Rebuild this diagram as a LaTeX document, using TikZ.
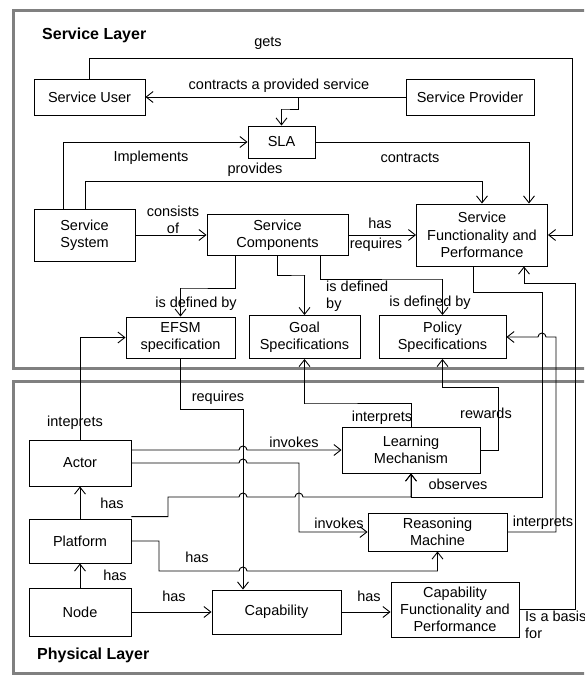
\documentclass[tikz,border=0pt]{standalone}
\usepackage{fontspec}
\setmainfont{Liberation Sans}
\usetikzlibrary{arrows.meta}
\begin{document}
\begin{tikzpicture}[x=1pt,y=-1pt,
  txt/.style={font=\fontsize{14.5}{17.2}\selectfont, inner sep=0pt, align=center},
  box/.style={txt, draw, line width=0.9pt},
  ttl/.style={font=\fontsize{16}{19}\selectfont\bfseries, inner sep=0pt, anchor=west},
  wire/.style={line width=0.9pt, -{Straight Barb[length=7pt,width=11pt]}},
  layer/.style={draw=black!50, line width=3pt}]
\clip (0,0) rectangle (584,675);
\fill[white] (0,0) rectangle (584,675);

% layer frames
\draw[layer] (13.5,10) rectangle (640,368);
\draw[layer] (13.5,381) rectangle (640,673);
\node[ttl] (svcttl) at (42,35) {Service Layer};
\node[ttl] (phyttl) at (37,655) {Physical Layer};

% service layer boxes
\node[box, minimum width=111pt, minimum height=36pt] (su) at (89.5,97) {Service User};
\node[box, minimum width=128pt, minimum height=36pt] (sp) at (470,97) {Service Provider};
\node[box, minimum width=67pt, minimum height=32pt] (sla) at (281.5,142) {SLA};
\node[box, minimum width=101pt, minimum height=52pt] (ss) at (84.5,235) {Service\\System};
\node[box, minimum width=141pt, minimum height=41pt] (sc) at (277.5,235) {Service\\Components};
\node[box, minimum width=131pt, minimum height=62pt] (sfp) at (482,235) {Service\\Functionality and\\Performance};
\node[box, minimum width=109pt, minimum height=41pt] (efsm) at (180.5,337.5) {EFSM\\specification};
\node[box, minimum width=111pt, minimum height=43pt] (goal) at (304.5,337) {Goal\\Specifications};
\node[box, minimum width=127pt, minimum height=43pt] (pol) at (442.5,337) {Policy\\Specifications};

% physical layer boxes
\node[box, minimum width=102pt, minimum height=46pt] (actor) at (80,463) {Actor};
\node[box, minimum width=138pt, minimum height=46pt] (lm) at (411,450) {Learning\\Mechanism};
\node[box, minimum width=102pt, minimum height=44pt] (plat) at (80,541) {Platform};
\node[box, minimum width=139pt, minimum height=38pt] (rm) at (437.5,532) {Reasoning\\Machine};
\node[box, minimum width=102pt, minimum height=48pt] (nd) at (80,612) {Node};
\node[box, minimum width=129pt, minimum height=44pt] (cap) at (276.5,612) {Capability};
\node[box, minimum width=128pt, minimum height=55pt] (cfp) at (455,609.5) {Capability\\Functionality and\\Performance};

% service layer connectors
\draw[wire] (su.north) |- (572,58) |- (sfp.east);
\draw[wire] (sp.west) -- (su.east);
\draw[wire] (sp.west -| 298,0) |- (282,109) -| (sla.north);
\draw[wire] (ss.north -| 63,0) |- (sla.west);
\draw[wire] (sla.east) -| (sfp.north -| 529,0);
\draw[wire] (ss.north -| 85,0) |- (482,181) -- (sfp.north);
\draw[wire] (ss.east) -- (sc.west);
\draw[wire] (sc.east) -- (sfp.west);
\draw[wire] (sc.south -| 235,0) |- (181,288) -| (efsm.north);
\draw[wire] (sc.south -| 277,0) |- (305,275) -| (goal.north);
\draw[wire] (sc.south -| 320,0) |- (442,279) -| (pol.north);

% connectors between the layers
\draw[wire] (actor.north) |- (efsm.west);
\draw[wire] (efsm.south) |- (243,409) -- (cap.north -| 243,0);
\draw[wire] (actor.east |- lm.west) -- (239,450)
  arc[start angle=180,end angle=360,radius=4] -- (lm.west);
\draw[wire] (actor.east) -- (239,463)
  arc[start angle=180,end angle=360,radius=4] -- (299,463) |- (rm.west);
\draw[wire] (lm.north) |- (305,403) -| (goal.south);
\draw[wire] (lm.east) -| (498,387) -| (pol.south);
\draw[wire] ([yshift=2pt]plat.north east) -| (168,497) -- (239,497)
  arc[start angle=180,end angle=360,radius=4] -- (295,497)
  arc[start angle=180,end angle=360,radius=4] -- (lm.south |- 0,497) -- (lm.south);
\draw[wire] (sfp.south -| 473,0) |- (542,292) |- (lm.south |- 0,497) -- (lm.south);
\draw[wire] (rm.east) -| (556,337) -- (546,337)
  arc[start angle=0,end angle=-180,radius=4] -- (pol.east);
\draw[wire] (plat.east) -| (159,571) -- (239,571)
  arc[start angle=180,end angle=360,radius=4] -- (rm.south |- 0,571) -- (rm.south);
\draw[wire] (nd.north) -- (plat.south);
\draw[wire] (plat.north) -- (actor.south);
\draw[wire] (nd.east) -- (cap.west);
\draw[wire] (cap.east) -- (cfp.west |- cap.east);
\draw[wire] (cfp.east) -| (575,283) -| (sfp.south -| 524,0);

% connector labels
\node[txt] (lgets) at (268,43) {gets};
\node[txt] (lcontract) at (279,86) {contracts a provided service};
\node[txt] (limpl) at (151,158) {Implements};
\node[txt] (lcontracts) at (410,158) {contracts};
\node[txt] (lprov) at (255,170) {provides};
\node[txt] (lcons) at (173,220) {consists\\of};
\node[txt] (lhas) at (380,223) {has};
\node[txt] (lreq) at (376,245) {requires};
\node[txt] (ldef1) at (196,304) {is defined by};
\node[txt, anchor=west, align=left] (ldef2) at (326,296) {is defined\\by};
\node[txt] (ldef3) at (430,303) {is defined by};
\node[txt] (lintep) at (75,423) {inteprets};
\node[txt] (lreq2) at (218,398) {requires};
\node[txt] (linv1) at (294,442) {invokes};
\node[txt] (lint1) at (382,418) {interprets};
\node[txt] (lrew) at (486,413) {rewards};
\node[txt] (lhas1) at (112,503) {has};
\node[txt] (lobs) at (458,484) {observes};
\node[txt] (linv2) at (339,523) {invokes};
\node[txt] (lint2) at (543,523) {interprets};
\node[txt] (lhas2) at (197,557) {has};
\node[txt] (lhas3) at (115,575) {has};
\node[txt] (lhas4) at (174,596) {has};
\node[txt] (lhas5) at (369,596) {has};
\node[txt, anchor=west, align=left] (lbasis) at (525,625) {Is a basis\\for};
\end{tikzpicture}
\end{document}
